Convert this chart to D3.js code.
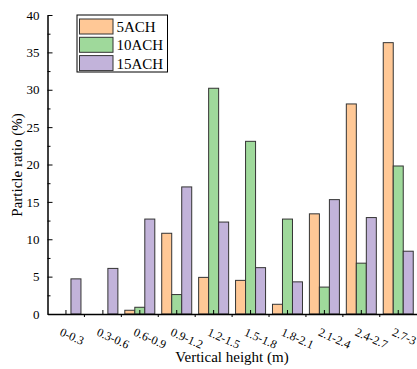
<!DOCTYPE html>
<html lang="en">
<head>
<meta charset="utf-8">
<title>Particle ratio by vertical height</title>
<script src="https://d3js.org/d3.v7.js"></script>
<style>
  body { margin: 0; background: #fff; }
  svg { font-family: "Liberation Serif", "Times New Roman", serif; }
</style>
</head>
<body>
<svg></svg>
<script>
  // data
  const heights = ['0-0.3','0.3-0.6','0.6-0.9','0.9-1.2','1.2-1.5','1.5-1.8','1.8-2.1','2.1-2.4','2.4-2.7','2.7-3'];
  const series = ['5ACH','10ACH','15ACH'];
  const ach5  = [0, 0, 0.5, 10.8, 4.9, 4.5, 1.3, 13.4, 28.1, 36.3];
  const ach10 = [0, 0, 0.9, 2.6, 30.2, 23.1, 12.7, 3.6, 6.8, 19.8];
  const ach15 = [4.7, 6.1, 12.7, 17.0, 12.3, 6.2, 4.3, 15.3, 12.9, 8.4];
  const yTicks = [0, 5, 10, 15, 20, 25, 30, 35, 40];
  const colors = ['#ffc896', '#9fd99b', '#c2b3da'];

  const w = 417, h = 369;
  const margin = {top: 15, right: 0, bottom: 55, left: 47.5};
  const serif = '"Liberation Serif", "Times New Roman", serif';

  const svg = d3.select('svg').attr('width', w).attr('height', h);

  const rows = heights.map((c, i) => ({cat: c, vals: [ach5[i], ach10[i], ach15[i]]}));

  const x = d3.scaleBand().domain(heights).range([margin.left, margin.left + 369.2]).padding(0);
  const sub = d3.scaleBand().domain(series).range([x.bandwidth() / 2 - 15, x.bandwidth() / 2 + 15]);
  const y = d3.scaleLinear().domain([0, 40]).range([314, 15]);

  // bars
  const groups = svg.append('g').selectAll('g.grp').data(rows).join('g')
      .attr('class', 'grp')
      .attr('transform', d => `translate(${x(d.cat)},0)`);
  groups.selectAll('rect').data(d => d.vals.map((v, k) => ({s: series[k], v: v, k: k})).filter(d => d.v > 0))
    .join('rect')
      .attr('x', d => sub(d.s))
      .attr('width', sub.bandwidth())
      .attr('y', d => y(d.v))
      .attr('height', d => y(0) - y(d.v))
      .attr('fill', d => colors[d.k])
      .attr('stroke', '#333')
      .attr('stroke-width', 1);

  // y axis: minor ticks inward
  const yMinor = svg.append('g').attr('transform', `translate(${margin.left},0)`);
  yMinor.call(d3.axisRight(y).tickValues(d3.range(2.5, 40, 5)).tickSize(3).tickFormat(''))
    .call(a => a.select('.domain').remove());
  yMinor.selectAll('line').attr('stroke', '#000');

  const yAxis = svg.append('g').attr('transform', `translate(${margin.left},0)`);
  yAxis.call(d3.axisLeft(y).tickValues(yTicks).tickSize(0).tickPadding(8))
    .call(a => a.select('.domain').attr('stroke', '#000').attr('stroke-width', 1.5));
  yAxis.selectAll('.tick').append('line').attr('x1', 0).attr('x2', 5).attr('stroke', '#000');
  yAxis.selectAll('text').attr('font-size', 13).attr('fill', '#000').attr('font-family', serif);

  // x axis
  const xAxis = svg.append('g').attr('transform', `translate(0,${y(0)})`);
  xAxis.call(d3.axisBottom(x).tickSize(0).tickFormat(''))
    .call(a => a.select('.domain').attr('stroke', '#000').attr('stroke-width', 1.5));
  xAxis.selectAll('.tick').append('line').attr('y1', 0).attr('y2', -4).attr('stroke', '#000');
  xAxis.selectAll('line.bnd').data(heights.slice(1)).join('line')
      .attr('class', 'bnd')
      .attr('x1', d => x(d)).attr('x2', d => x(d))
      .attr('y1', 0).attr('y2', 3)
      .attr('stroke', '#000');
  xAxis.selectAll('text.lab').data(heights).join('text')
      .attr('class', 'lab')
      .attr('text-anchor', 'start')
      .attr('font-family', serif)
      .attr('transform', d => `translate(${x(d) + x.bandwidth() / 2 - 7},21) rotate(24)`)
      .attr('font-size', 12)
      .attr('fill', '#000')
      .text(d => d);

  // axis titles
  svg.append('text')
      .attr('x', 232).attr('y', 362)
      .attr('text-anchor', 'middle')
      .attr('font-size', 15)
      .text('Vertical height (m)');
  svg.append('text')
      .attr('transform', 'translate(22,165) rotate(-90)')
      .attr('text-anchor', 'middle')
      .attr('font-size', 15)
      .text('Particle ratio (%)');

  // legend
  const leg = svg.append('g');
  leg.append('rect')
      .attr('x', 77).attr('y', 15).attr('width', 90.5).attr('height', 57)
      .attr('fill', '#fff').attr('stroke', '#000').attr('stroke-width', 1);
  series.forEach((s, i) => {
    leg.append('rect')
        .attr('x', 79.5).attr('y', 19 + i * 18.3).attr('width', 33.5).attr('height', 15)
        .attr('fill', colors[i]).attr('stroke', '#333');
    leg.append('text')
        .attr('x', 116.5).attr('y', 32 + i * 18.3)
        .attr('font-size', 15)
        .text(s);
  });
</script>
</body>
</html>
